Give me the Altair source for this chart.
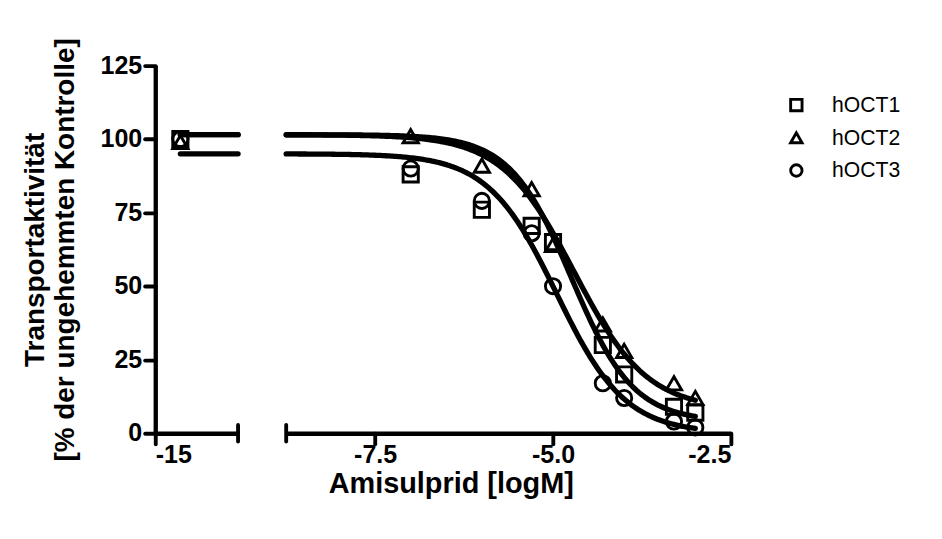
import altair as alt
import pandas as pd

# ---- data ----
series = ["hOCT1", "hOCT2", "hOCT3"]
shapes = ["square", "triangle-up", "circle"]
log_conc = [-14, -7, -6, -5.3, -5, -4.3, -4, -3.3, -3]
hoct1 = [100, 88, 76, 70.5, 65, 30, 20, 9, 7]
hoct2 = [99, 101, 91, 83, 64, 37, 28, 17, 12]
hoct3 = [100, 90, 79, 68, 50, 17, 12, 4, 2]

# sigmoidal dose-response fit parameters
fit_top = [101.5, 101.5, 95]
fit_bottom = [4, 8, 0]
fit_logic50 = [-4.74, -4.7, -4.95]
fit_hill = [1.0, 0.85, 0.9]

left_domain = [-15, -11.7]
right_domain = [-8.75, -2.5]
left_ticks = [-15]
right_ticks = [-7.5, -5.0, -2.5]
y_ticks = [0, 25, 50, 75, 100, 125]

rows = []
for name, vals in zip(series, [hoct1, hoct2, hoct3]):
    for x, y in zip(log_conc, vals):
        rows.append({"series": name, "x": x, "y": y})
points_df = pd.DataFrame(rows)

FONT = "Liberation Sans"


def curve_expr(i):
    t, b, c, h = fit_top[i], fit_bottom[i], fit_logic50[i], fit_hill[i]
    return f"{b} + ({t} - {b}) / (1 + pow(10, (datum.data - ({c})) * {h}))"


def panel(domain, cstart, cstop, step, ticks, fmt, width, cap_x, first):
    xscale = alt.Scale(domain=domain, nice=False, zero=False)
    yscale = alt.Scale(domain=[0, 125], nice=False, zero=True)
    if first:
        xaxis = alt.Axis(values=ticks, format=fmt, title=None, labelPadding=-2,
                         labelExpr="replace(datum.label, '\u2212', '-')")
        yaxis = alt.Axis(values=y_ticks, format="d",
                         title=["Transportaktivität", "[% der ungehemmten Kontrolle]"],
                         titlePadding=22, labelPadding=3)
    else:
        xaxis = alt.Axis(values=ticks, format=fmt, title="Amisulprid [logM]",
                         labelPadding=-2,
                         labelExpr="replace(datum.label, '\u2212', '-')",
                         titleX=171, titleY=62, titleBaseline="alphabetic",
                         titleAnchor="start", titleAlign="center")
        yaxis = None

    curves = (
        alt.Chart(alt.sequence(cstart, cstop, step))
        .transform_calculate(**{s: curve_expr(i) for i, s in enumerate(series)})
        .transform_fold(series, as_=["series", "yy"])
        .mark_line(color="black", strokeWidth=5.5, strokeCap="round", clip=False)
        .encode(
            x=alt.X("data:Q", scale=xscale, axis=xaxis),
            y=alt.Y("yy:Q", scale=yscale, axis=yaxis),
            detail="series:N",
        )
    )

    pdata = points_df[(points_df.x >= domain[0]) & (points_df.x <= domain[1])]
    pts = (
        alt.Chart(pdata)
        .mark_point(filled=False, color="black", strokeWidth=3, size=250, opacity=1)
        .encode(
            x=alt.X("x:Q", scale=xscale),
            y=alt.Y("y:Q", scale=yscale),
            shape=alt.Shape(
                "series:N",
                scale=alt.Scale(domain=series, range=shapes),
                legend=alt.Legend(title=None),
            ),
        )
    )

    cap = (
        alt.Chart(pd.DataFrame({"x": [cap_x]}))
        .transform_calculate(lo="-2.8", hi="2.8")
        .mark_rule(color="black", strokeWidth=4, strokeCap="round")
        .encode(
            x=alt.X("x:Q", scale=xscale),
            y=alt.Y("lo:Q", scale=yscale),
            y2="hi:Q",
        )
    )

    return alt.layer(curves, pts, cap).properties(width=width, height=382)


left = panel(left_domain, -14, -11.69, 0.05, left_ticks, ".0f", 86, left_domain[1], True)
right = panel(right_domain, -8.75, -2.99, 0.025, right_ticks, ".1f", 462, right_domain[0], False)

chart = (
    alt.hconcat(left, right, spacing=28)
    .properties(padding={"left": 13, "top": 21, "right": 5, "bottom": 5})
    .configure_view(stroke=None)
    .configure_axis(
        domainColor="black", domainWidth=4.5, tickColor="black", tickWidth=4,
        tickSize=11, tickCap="round", grid=False, labelPadding=2,
        labelFont=FONT, labelFontSize=26, labelFontWeight="bold", labelColor="black",
        titleFont=FONT, titleFontSize=29, titleFontWeight="bold", titleColor="black",
        titleLineHeight=31,
    )
    .configure_axisBottom(titleFontSize=30)
    .configure_legend(
        orient="right", offset=25, padding=30, labelFont=FONT, labelFontSize=22,
        labelColor="black", symbolStrokeColor="black", symbolStrokeWidth=3,
        symbolSize=140, symbolFillColor="transparent", rowPadding=10, labelOffset=26,
    )
)

chart.save("out.html", embed_options={"renderer": "svg", "actions": False})
